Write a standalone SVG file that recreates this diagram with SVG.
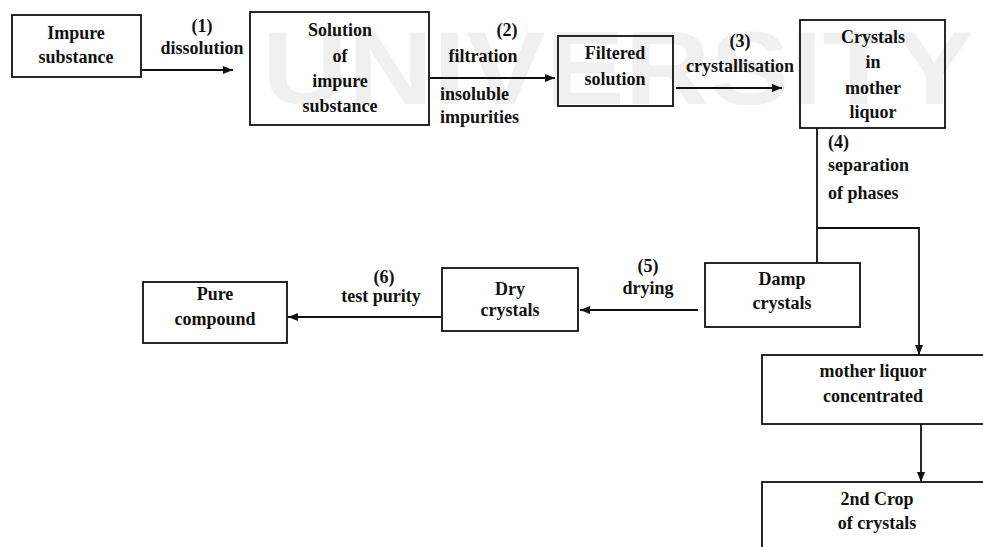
<svg xmlns="http://www.w3.org/2000/svg" width="983" height="547" viewBox="0 0 983 547">
<defs>
<marker id="ah" viewBox="0 0 10 8" refX="10" refY="4" markerWidth="10" markerHeight="8" markerUnits="userSpaceOnUse" orient="auto">
<path d="M0,0 L10,4 L0,8 z" fill="#111"/>
</marker>
</defs>
<style>
.box{fill:none;stroke:#111;stroke-width:1.8}
.t{font-family:"Liberation Serif","Times New Roman",serif;font-size:18px;font-weight:bold;fill:#111;text-anchor:middle}
.l{text-anchor:start}
.c{fill:none;stroke:#111;stroke-width:1.8}
.wm{font-family:"Liberation Sans",Arial,sans-serif;font-size:104px;font-weight:bold;fill:#f0f0f0}
</style>
<rect width="983" height="547" fill="#fff"/>
<text class="wm" x="262" y="104" textLength="712" lengthAdjust="spacingAndGlyphs">UNIVERSITY</text>

<g id="impure">
<rect class="box" x="12" y="15" width="129" height="62"/>
<text class="t" x="76" y="39">Impure</text>
<text class="t" x="76" y="63">substance</text>
</g>
<g id="solution">
<rect class="box" x="250" y="12" width="179" height="113"/>
<text class="t" x="340" y="36">Solution</text>
<text class="t" x="340" y="62">of</text>
<text class="t" x="340" y="87">impure</text>
<text class="t" x="340" y="112">substance</text>
</g>
<g id="filtered">
<rect class="box" x="558" y="36" width="115" height="70"/>
<text class="t" x="615" y="59">Filtered</text>
<text class="t" x="615" y="85">solution</text>
</g>
<g id="crystals">
<rect class="box" x="800" y="20" width="145" height="108"/>
<text class="t" x="873" y="43">Crystals</text>
<text class="t" x="873" y="68">in</text>
<text class="t" x="873" y="94">mother</text>
<text class="t" x="873" y="118">liquor</text>
</g>
<g id="damp">
<rect class="box" x="705" y="263" width="155" height="64"/>
<text class="t" x="782" y="285">Damp</text>
<text class="t" x="782" y="309">crystals</text>
</g>
<g id="dry">
<rect class="box" x="442" y="268" width="136" height="63"/>
<text class="t" x="510" y="295">Dry</text>
<text class="t" x="510" y="316">crystals</text>
</g>
<g id="pure">
<rect class="box" x="143" y="282" width="144" height="61"/>
<text class="t" x="215" y="300">Pure</text>
<text class="t" x="215" y="325">compound</text>
</g>
<g id="motherliquor">
<rect class="box" x="762" y="355" width="225" height="69"/>
<text class="t" x="873" y="377">mother liquor</text>
<text class="t" x="873" y="402">concentrated</text>
</g>
<g id="secondcrop">
<rect class="box" x="762" y="482" width="225" height="70"/>
<text class="t" x="877" y="505">2nd Crop</text>
<text class="t" x="877" y="529">of crystals</text>
</g>

<g id="connectors">
<path class="c" d="M141,70 H233" marker-end="url(#ah)"/>
<path class="c" d="M429,78 H555" marker-end="url(#ah)"/>
<path class="c" d="M676,88 H782" marker-end="url(#ah)"/>
<path class="c" d="M817,128 V263"/>
<path class="c" d="M817,228 H919 V355" marker-end="url(#ah)"/>
<path class="c" d="M698,310 H580" marker-end="url(#ah)"/>
<path class="c" d="M442,317 H288" marker-end="url(#ah)"/>
<path class="c" d="M921,424 V482" marker-end="url(#ah)"/>
</g>

<g id="labels">
<text class="t" x="202" y="32">(1)</text>
<text class="t" x="202" y="54">dissolution</text>
<text class="t" x="507" y="36">(2)</text>
<text class="t" x="483" y="62">filtration</text>
<text class="t l" x="440" y="100">insoluble</text>
<text class="t l" x="440" y="123">impurities</text>
<text class="t" x="740" y="47">(3)</text>
<text class="t" x="740" y="72">crystallisation</text>
<text class="t l" x="828" y="148">(4)</text>
<text class="t l" x="828" y="171">separation</text>
<text class="t l" x="828" y="199">of phases</text>
<text class="t" x="648" y="272">(5)</text>
<text class="t" x="648" y="294">drying</text>
<text class="t" x="384" y="283">(6)</text>
<text class="t" x="381" y="302">test purity</text>
</g>
</svg>
